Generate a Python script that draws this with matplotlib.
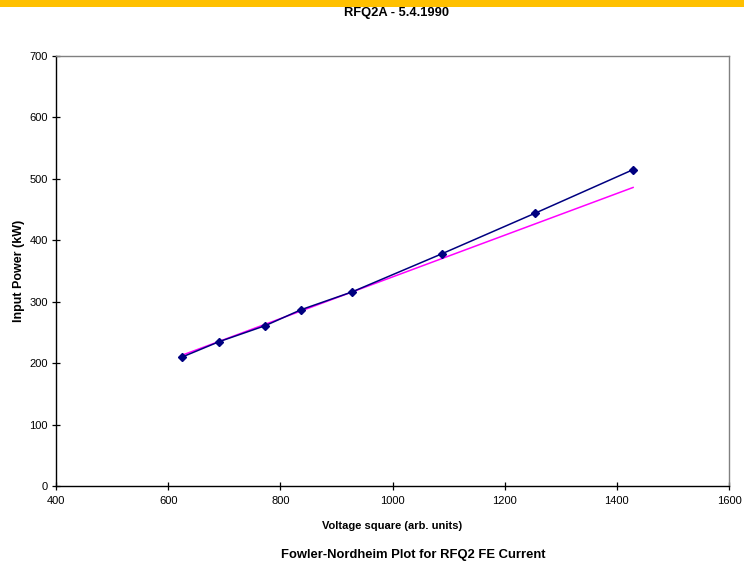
import matplotlib
matplotlib.use("Agg")
import matplotlib.pyplot as plt
from matplotlib.patches import Rectangle

plt.rcParams["font.family"] = ["Liberation Sans", "DejaVu Sans"]

# Measured points: voltage square vs. input power
voltage_sq = [625, 691, 773, 837, 928, 1088, 1254, 1429]
power_kw = [210, 235, 261, 287, 316, 378, 444, 515]

# Straight-line fit endpoints
fit_x = [625, 1429]
fit_y = [213, 486]

x_ticks = [400, 600, 800, 1000, 1200, 1400, 1600]
y_ticks = [0, 100, 200, 300, 400, 500, 600, 700]

fig = plt.figure(figsize=(7.44, 5.66), dpi=100)
fig.patch.set_facecolor("white")

# Orange band across the top edge
fig.patches.append(Rectangle((0, 1 - 7 / 566), 1, 7 / 566, transform=fig.transFigure,
                             facecolor="#FFC000", edgecolor="none", zorder=0))

ax = fig.add_axes([56 / 744, 1 - 486 / 566, (729 - 56) / 744, (486 - 56) / 566])

ax.plot(voltage_sq, power_kw, color="#000080", linewidth=1.1, marker="D",
        markersize=4.2, markerfacecolor="#000080", markeredgecolor="#000080", zorder=3)
ax.plot(fit_x, fit_y, color="#FF00FF", linewidth=1.1, zorder=2)

ax.set_xlim(400, 1600)
ax.set_ylim(0, 700)
ax.set_xticks(x_ticks)
ax.set_yticks(y_ticks)
ax.tick_params(axis="both", direction="inout", length=6, width=0.9, labelsize=8,
               colors="black")
ax.tick_params(axis="x", pad=4)
ax.tick_params(axis="y", pad=3)

for side in ("left", "bottom"):
    ax.spines[side].set_color("black")
    ax.spines[side].set_linewidth(1.0)
for side in ("top", "right"):
    ax.spines[side].set_color("#808080")
    ax.spines[side].set_linewidth(1.0)

ax.set_xlabel("Voltage square (arb. units)", fontsize=8, fontweight="bold", labelpad=11)
ax.set_ylabel("Input Power (kW)", fontsize=9, fontweight="bold", labelpad=3)

fig.text(396 / 744, 1 - 13 / 566, "RFQ2A - 5.4.1990", ha="center", va="center",
         fontsize=9.3, fontweight="bold")
fig.text(413 / 744, 1 - 555 / 566, "Fowler-Nordheim Plot for RFQ2 FE Current",
         ha="center", va="center", fontsize=9.4, fontweight="bold")

fig.savefig("out.png", dpi=100)
